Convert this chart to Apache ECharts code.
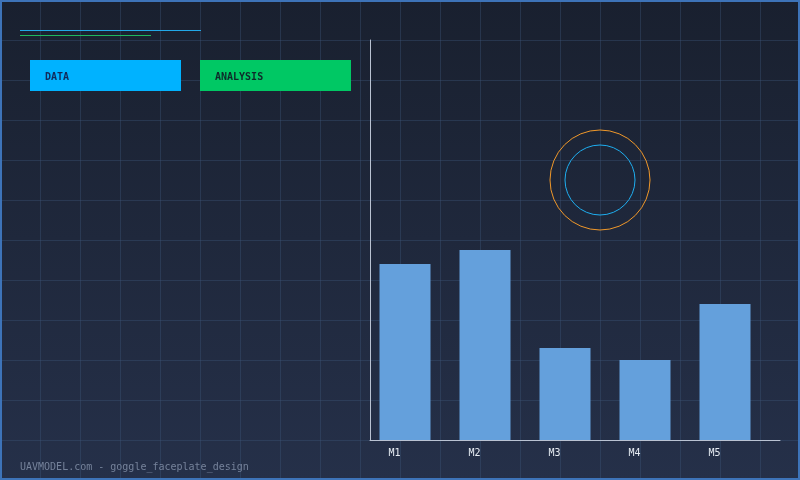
<!DOCTYPE html>
<html>
<head>
<meta charset="utf-8">
<style>
    html, body { margin: 0; padding: 0; background: #1a2233; }
    #chart { width: 800px; height: 480px; }
</style>
<script src="https://cdn.jsdelivr.net/npm/echarts@6/dist/echarts.min.js"></script>
</head>
<body>
<div id="chart"></div>
<script>
// data
const categories = ["M1", "M2", "M3", "M4", "M5"];
const values = [44, 47.5, 23, 20, 34];
const buttonLabels = ["DATA", "ANALYSIS"];
const footerText = "UAVMODEL.com - goggle_faceplate_design";

const myChart = echarts.init(document.getElementById('chart'));

const mono = "DejaVu Sans Mono";
const gridColor = "rgba(60,85,120,0.4)";

// background grid lines every 40px
const bgLines = [];
for (let x = 40; x < 800; x += 40) {
    bgLines.push({ type: 'line', silent: true, z: 0,
        shape: { x1: x + 0.5, y1: 0, x2: x + 0.5, y2: 480 },
        style: { stroke: gridColor, lineWidth: 1 } });
}
for (let y = 40; y < 480; y += 40) {
    bgLines.push({ type: 'line', silent: true, z: 0,
        shape: { x1: 0, y1: y + 0.5, x2: 800, y2: y + 0.5 },
        style: { stroke: gridColor, lineWidth: 1 } });
}

const option = {
    backgroundColor: new echarts.graphic.LinearGradient(0, 0, 0, 1, [
        { offset: 0, color: '#19202f' },
        { offset: 1, color: '#253049' }
    ]),
    animation: false,
    graphic: bgLines.concat([
        // frame
        { type: 'rect', silent: true, z: 1,
          shape: { x: 1, y: 1, width: 798, height: 478 },
          style: { fill: null, stroke: '#3d73b8', lineWidth: 2 } },
        // header lines
        { type: 'line', z: 2, shape: { x1: 20, y1: 30.5, x2: 201, y2: 30.5 },
          style: { stroke: '#22a8e8', lineWidth: 1 } },
        { type: 'line', z: 2, shape: { x1: 20, y1: 35.5, x2: 151, y2: 35.5 },
          style: { stroke: '#1fb85e', lineWidth: 1 } },
        // buttons
        { type: 'rect', z: 2, shape: { x: 30, y: 60, width: 151, height: 31 },
          style: { fill: '#00b2ff' } },
        { type: 'text', z: 3, left: 45, top: 72,
          style: { text: buttonLabels[0], fill: '#12295a', font: 'bold 10px ' + mono } },
        { type: 'rect', z: 2, shape: { x: 200, y: 60, width: 151, height: 31 },
          style: { fill: '#00c864' } },
        { type: 'text', z: 3, left: 215, top: 72,
          style: { text: buttonLabels[1], fill: '#0e2a2a', font: 'bold 10px ' + mono } },
        // rings
        { type: 'circle', z: 2, shape: { cx: 600, cy: 180, r: 50 },
          style: { fill: null, stroke: '#f0982a', lineWidth: 1 } },
        { type: 'circle', z: 2, shape: { cx: 600, cy: 180, r: 35 },
          style: { fill: null, stroke: '#1eaef0', lineWidth: 1 } },
        // footer
        { type: 'text', z: 3, left: 20, top: 462,
          style: { text: footerText, fill: '#75829a', font: '10px ' + mono } }
    ]),
    grid: [
        { left: 365, width: 400, top: 40, height: 400 },
        { left: 370, width: 410, top: 40, height: 400 }
    ],
    xAxis: [
        {
            type: 'category', gridIndex: 0, data: categories,
            axisLine: { show: false }, axisTick: { show: false },
            axisLabel: { color: '#e6ebf2', fontFamily: mono, fontSize: 10,
                         margin: 8, padding: [0, 21, 0, 0] }
        },
        {
            type: 'category', gridIndex: 1, data: categories,
            axisLine: { lineStyle: { color: '#b9c2d2', width: 1 } },
            axisTick: { show: false }, axisLabel: { show: false }
        }
    ],
    yAxis: [
        { type: 'value', gridIndex: 0, min: 0, max: 100, show: false },
        {
            type: 'value', gridIndex: 1, min: 0, max: 100,
            axisLine: { show: true, lineStyle: { color: '#b9c2d2', width: 1 } },
            axisTick: { show: false }, axisLabel: { show: false },
            splitLine: { show: false }
        }
    ],
    series: [{
        type: 'bar',
        xAxisIndex: 0, yAxisIndex: 0,
        barWidth: 51,
        itemStyle: { color: '#64a0dc' },
        data: values
    }]
};

myChart.setOption(option);
</script>
</body>
</html>
